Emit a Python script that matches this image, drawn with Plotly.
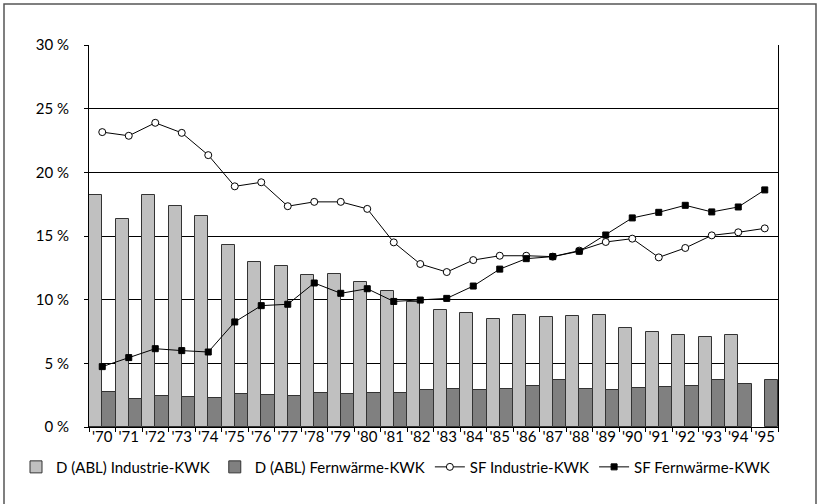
import plotly.graph_objects as go

years = ["'70", "'71", "'72", "'73", "'74", "'75", "'76", "'77", "'78", "'79",
         "'80", "'81", "'82", "'83", "'84", "'85", "'86", "'87", "'88", "'89",
         "'90", "'91", "'92", "'93", "'94", "'95"]

d_industrie = [18.25, 16.34, 18.2, 17.39, 16.58, 14.32, 12.96, 12.65, 11.91, 11.99,
               11.36, 10.67, 9.78, 9.2, 8.94, 8.5, 8.79, 8.63, 8.68, 8.79,
               7.76, 7.5, 7.24, 7.03, 7.19, None]

d_fernwaerme = [2.75, 2.23, 2.41, 2.33, 2.28, 2.59, 2.49, 2.43, 2.64, 2.62,
                2.65, 2.65, 2.94, 3.02, 2.94, 3.02, 3.25, 3.72, 2.99, 2.94,
                3.07, 3.17, 3.25, 3.67, 3.41, 3.70]

sf_industrie = [23.16, 22.87, 23.89, 23.1, 21.35, 18.9, 19.22, 17.34, 17.68, 17.68,
                17.13, 14.5, 12.8, 12.17, 13.11, 13.45, 13.45, 13.38, 13.85, 14.53,
                14.79, 13.32, 14.06, 15.05, 15.29, 15.6]

sf_fernwaerme = [4.74, 5.45, 6.15, 6.0, 5.89, 8.25, 9.53, 9.64, 11.31, 10.5,
                 10.86, 9.86, 9.97, 10.1, 11.07, 12.4, 13.22, 13.38, 13.8, 15.08,
                 16.42, 16.86, 17.41, 16.89, 17.28, 18.62]

y_ticks = [0, 5, 10, 15, 20, 25, 30]
y_tick_labels = ["0 %", "5 %", "10 %", "15 %", "20 %", "25 %", "30 %"]

FONT = "Lato"
FS = 15

fig = go.Figure()
fig.add_trace(go.Bar(x=years, y=d_industrie, name="D (ABL) Industrie-KWK",
                     marker=dict(color="#c0c0c0", line=dict(color="#333333", width=1))))
fig.add_trace(go.Bar(x=years, y=d_fernwaerme, name="D (ABL) Fernwärme-KWK",
                     marker=dict(color="#808080", line=dict(color="#333333", width=1))))
fig.add_trace(go.Scatter(x=years, y=sf_industrie, name="SF Industrie-KWK",
                         mode="lines+markers",
                         line=dict(color="black", width=1),
                         marker=dict(symbol="circle", size=7, color="white",
                                     line=dict(color="black", width=1))))
fig.add_trace(go.Scatter(x=years, y=sf_fernwaerme, name="SF Fernwärme-KWK",
                         mode="lines+markers",
                         line=dict(color="black", width=1),
                         marker=dict(symbol="square", size=6, color="black",
                                     line=dict(color="black", width=1))))

fig.update_layout(
    width=819, height=504,
    margin=dict(l=89, r=41, t=45, b=77, autoexpand=False),
    paper_bgcolor="white", plot_bgcolor="white",
    font=dict(family=FONT, size=FS, color="black"),
    barmode="group", bargap=0, bargroupgap=0,
    showlegend=True,
    legend=dict(orientation="h", x=(16 - 89) / 689, xanchor="left",
                y=-0.105, yanchor="middle",
                font=dict(family=FONT, size=FS, color="black"),
                traceorder="normal", itemwidth=30, bgcolor="rgba(0,0,0,0)"),
    xaxis=dict(type="category", range=[-0.5, 25.5], autorange=False,
               showgrid=False, showline=True, linecolor="black",
               linewidth=1, ticks="outside", tickson="boundaries", ticklen=4,
               tickcolor="black", tickangle=0, automargin=False,
               ticklabelstandoff=-4,
               tickfont=dict(family=FONT, size=FS)),
    yaxis=dict(range=[0, 30], autorange=False, tickvals=y_ticks, ticktext=y_tick_labels,
               showgrid=True, gridcolor="black", gridwidth=1, showline=True,
               linecolor="black", linewidth=1, mirror=True, ticks="outside",
               ticklen=4, tickcolor="black", ticklabelstandoff=12, zeroline=False,
               automargin=False, tickfont=dict(family=FONT, size=FS)),
    shapes=[dict(type="rect", xref="paper", yref="paper",
                 x0=(4 - 89) / 689, x1=(816 - 89) / 689,
                 y0=(427 - 520) / 382, y1=(427 - 4) / 382,
                 line=dict(color="#555555", width=1.5), layer="below")],
)

fig.write_html("out.html",
               config={"displayModeBar": False},
               post_script="document.body.style.margin='0';document.body.style.overflow='hidden';")
